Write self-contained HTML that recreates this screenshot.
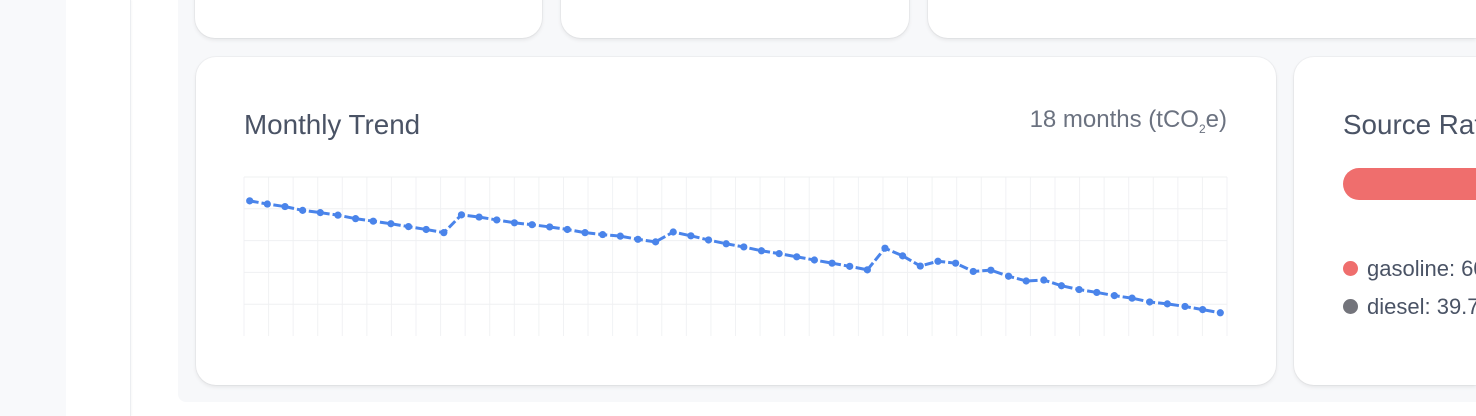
<!DOCTYPE html>
<html><head><meta charset="utf-8"><style>
body{margin:0;width:1476px;height:416px;overflow:hidden;background:#fff;font-family:"Liberation Sans",sans-serif;position:relative}
.abs{position:absolute}
.card{position:absolute;background:#fff;border-radius:20px;box-shadow:0 2px 4px rgba(0,0,0,0.08),0 0 0 1px rgba(0,0,0,0.03)}
</style></head><body>
<div class="abs" style="left:0;top:0;width:66px;height:416px;background:#f8f9fb"></div>
<div class="abs" style="left:66px;top:0;width:64px;height:416px;background:#fff;border-right:1px solid #eceef1;box-shadow:1px 0 2px rgba(0,0,0,0.03)"></div>
<div class="abs" style="left:178px;top:0;width:1298px;height:402px;background:#f7f8fa;border-radius:0 0 0 8px"></div>
<div class="card" style="left:195px;top:-30px;width:347px;height:68px"></div>
<div class="card" style="left:561px;top:-30px;width:348px;height:68px"></div>
<div class="card" style="left:928px;top:-30px;width:548px;height:68px;border-radius:0 0 0 20px"></div>
<div class="card" style="left:196px;top:57px;width:1080px;height:328px">
  <div class="abs" style="left:48px;top:52px;font-size:27.8px;color:#4a5365">Monthly Trend</div>
  <div class="abs" style="right:49px;top:49px;font-size:24px;color:#6b7280;white-space:nowrap">18 months (tCO<sub style="font-size:12px">2</sub>e)</div>
</div>
<div class="card" style="left:1294px;top:57px;width:182px;height:328px;overflow:hidden;border-radius:20px 0 0 20px">
  <div class="abs" style="left:49px;top:52px;font-size:27.8px;color:#4a5365;white-space:nowrap">Source Ratio</div>
  <div class="abs" style="left:49px;top:111px;width:300px;height:32px;border-radius:16px;background:#ef6e6d"></div>
  <div class="abs" style="left:49px;top:199px;font-size:22px;color:#4a5365;white-space:nowrap"><span style="display:inline-block;width:15px;height:15px;border-radius:50%;background:#ef6e6d;margin-right:9px;vertical-align:0px"></span>gasoline: 60.3%</div>
  <div class="abs" style="left:49px;top:237px;font-size:22px;color:#4a5365;white-space:nowrap"><span style="display:inline-block;width:15px;height:15px;border-radius:50%;background:#73747b;margin-right:9px;vertical-align:0px"></span>diesel: 39.7%</div>
</div>
<svg class="abs" id="chart" style="left:0;top:0" width="1476" height="416"></svg>
<script>
const values=[42.5,41.5,40.7,39.5,38.8,38.0,36.9,36.1,35.3,34.4,33.5,32.5,38.1,37.4,36.5,35.6,35.0,34.3,33.5,32.5,31.9,31.4,30.4,29.6,32.7,31.5,30.2,29.0,28.0,26.8,25.9,24.9,23.9,22.9,21.9,20.8,27.6,25.2,22.0,23.5,22.9,20.3,20.7,18.8,17.3,17.6,15.8,14.6,13.7,12.7,11.9,10.7,10.1,9.3,8.3,7.3];
const yTicks=[0,10,20,30,40,50];
const NS="http://www.w3.org/2000/svg";
const svg=document.getElementById('chart');
const L=244,R=1227,T=177,B=336,yMax=50;
const px0=249.7,px1=1220.3;
const x=i=>px0+(px1-px0)*i/(values.length-1);
const y=v=>B-(B-T)*v/yMax;
function mk(t,a){const e=document.createElementNS(NS,t);for(const k in a)e.setAttribute(k,a[k]);svg.appendChild(e);return e;}
for(let i=0;i<=40;i++){const gx=L+(R-L)*i/40;
const g=mk('line',{x1:gx,x2:gx,y1:T,y2:B,stroke:'#f1f2f4','stroke-width':1});

}
yTicks.forEach(t=>{if(t===0)return;const g=mk('line',{x1:L,x2:R,y1:y(t),y2:y(t),stroke:'#eff0f2','stroke-width':1});

});
const path=mk('polyline',{points:values.map((v,i)=>x(i)+','+y(v)).join(' '),fill:'none',stroke:'#4a84ea','stroke-width':3,'stroke-dasharray':'9 3'});


values.forEach((v,i)=>{const c=mk('circle',{cx:x(i),cy:y(v),r:3.6,fill:'#4a84ea'});

});
</script>
</body></html>
